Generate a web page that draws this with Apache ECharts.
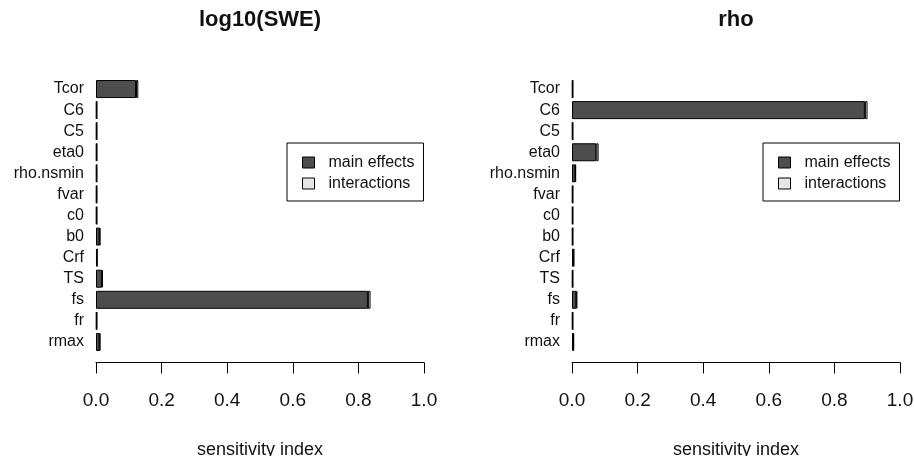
<!DOCTYPE html>
<html>
<head>
<meta charset="utf-8">
<script src="https://cdn.jsdelivr.net/npm/echarts@6/dist/echarts.min.js"></script>
<style>
html,body{margin:0;padding:0;background:#fff;}
#chart{width:914px;height:456px;}
</style>
</head>
<body>
<div id="chart"></div>
<script>
var categories = ['Tcor','C6','C5','eta0','rho.nsmin','fvar','c0','b0','Crf','TS','fs','fr','rmax'];
var sweMain  = [0.122, 0.002, 0.002, 0.002, 0.002, 0.002, 0.002, 0.011, 0.003, 0.018, 0.829, 0.002, 0.011];
var sweInter = [0.007, 0.001, 0.001, 0.001, 0.001, 0.001, 0.001, 0.002, 0.001, 0.003, 0.008, 0.001, 0.002];
var rhoMain  = [0.002, 0.893, 0.002, 0.074, 0.010, 0.002, 0.002, 0.002, 0.005, 0.002, 0.013, 0.002, 0.004];
var rhoInter = [0.001, 0.008, 0.001, 0.007, 0.002, 0.001, 0.001, 0.001, 0.001, 0.001, 0.003, 0.001, 0.002];
var panelTitles = ['log10(SWE)', 'rho'];
var seriesNames = ['main effects', 'interactions'];
var xTicks = {min: 0, max: 1, interval: 0.2};

var FONT = '"Liberation Sans", Arial, sans-serif';
var mainColor = '#4d4d4d';
var interColor = '#e6e6e6';
var gridLefts = [96, 572];

function xAxisFor(i) {
  return {
    type: 'value', gridIndex: i, min: xTicks.min, max: xTicks.max, interval: xTicks.interval,
    offset: 10,
    axisLine: {show: true, lineStyle: {color: '#000', width: 1}},
    axisTick: {show: true, length: 11, lineStyle: {color: '#000', width: 1}},
    splitLine: {show: false},
    axisLabel: {fontSize: 19, color: '#111', fontFamily: FONT, margin: 29, hideOverlap: false,
      formatter: function (v) { return v.toFixed(1); }},
    name: 'sensitivity index', nameLocation: 'middle', nameGap: 79,
    nameTextStyle: {fontSize: 18, color: '#111', fontFamily: FONT}
  };
}
function yAxisFor(i) {
  return {
    type: 'category', gridIndex: i, data: categories, inverse: true,
    axisLine: {show: false}, axisTick: {show: false}, splitLine: {show: false},
    axisLabel: {fontSize: 16, color: '#111', fontFamily: FONT, margin: 12, interval: 0}
  };
}
function barSeries(name, data, i, color) {
  return {
    name: name, type: 'bar', xAxisIndex: i, yAxisIndex: i, stack: 'p' + i,
    data: data, barWidth: 18,
    itemStyle: {color: color, borderColor: '#000', borderWidth: 1},
    emphasis: {disabled: true},
    animation: false
  };
}
function legendFor(i) {
  return {
    data: seriesNames, orient: 'vertical', left: gridLefts[i] + 191, top: 143,
    itemWidth: 12, itemHeight: 11, itemGap: 2, icon: 'rect',
    padding: [10, 9, 8, 15],
    borderColor: '#000', borderWidth: 1, backgroundColor: '#fff',
    itemStyle: {borderColor: '#000', borderWidth: 1},
    textStyle: {fontSize: 16, color: '#111', fontFamily: FONT, lineHeight: 19, padding: [0, 0, 0, 9]},
    selectedMode: false
  };
}

var chart = echarts.init(document.getElementById('chart'), null, {renderer: 'canvas'});
chart.setOption({
  backgroundColor: '#fff',
  animation: false,
  title: panelTitles.map(function (t, i) {
    return {text: t, left: gridLefts[i] + 164, top: 9, textAlign: 'center', padding: 0,
      textStyle: {fontSize: 22, fontWeight: 'bold', color: '#111', fontFamily: FONT}};
  }),
  grid: gridLefts.map(function (l) {
    return {left: l, width: 328, top: 78.5, height: 274, containLabel: false, outerBoundsMode: 'none'};
  }),
  xAxis: [xAxisFor(0), xAxisFor(1)],
  yAxis: [yAxisFor(0), yAxisFor(1)],
  legend: [legendFor(0), legendFor(1)],
  series: [
    barSeries(seriesNames[0], sweMain, 0, mainColor),
    barSeries(seriesNames[1], sweInter, 0, interColor),
    barSeries(seriesNames[0], rhoMain, 1, mainColor),
    barSeries(seriesNames[1], rhoInter, 1, interColor)
  ]
});
</script>
</body>
</html>
